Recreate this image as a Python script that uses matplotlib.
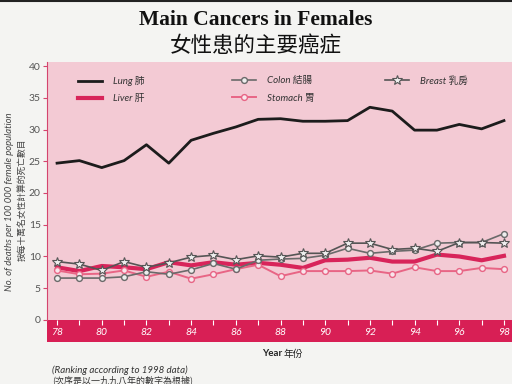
import matplotlib
matplotlib.use('Agg')
import matplotlib.pyplot as plt
from matplotlib.font_manager import FontProperties

years = list(range(78, 99))
lung = [24.7, 25.1, 24.0, 25.1, 27.6, 24.7, 28.3, 29.4, 30.4, 31.6, 31.7,
        31.3, 31.3, 31.4, 33.5, 32.9, 29.9, 29.9, 30.8, 30.1, 31.4]
liver = [8.3, 7.7, 8.5, 8.3, 8.0, 9.1, 8.6, 9.1, 8.7, 9.0, 8.7,
         8.2, 9.4, 9.5, 9.8, 9.2, 9.2, 10.3, 10.0, 9.4, 10.1]
colon = [6.6, 6.6, 6.6, 6.8, 7.6, 7.2, 7.9, 8.9, 8.0, 9.4, 9.6,
         9.7, 10.2, 11.3, 10.5, 10.8, 11.0, 12.1, 12.2, 12.2, 13.6]
stomach = [7.8, 7.2, 7.3, 7.8, 6.8, 7.6, 6.5, 7.2, 8.0, 8.7, 6.9,
           7.7, 7.7, 7.7, 7.8, 7.3, 8.3, 7.7, 7.7, 8.2, 8.0]
breast = [9.2, 8.8, 7.8, 9.2, 8.3, 9.0, 9.9, 10.2, 9.5, 10.1, 9.9,
          10.5, 10.5, 12.1, 12.1, 11.1, 11.3, 10.8, 12.2, 12.2, 12.1]
labels = ['Lung 肺', 'Liver 肝', 'Colon 結腸', 'Stomach 胃', 'Breast 乳房']
year_ticks = [78, 80, 82, 84, 86, 88, 90, 92, 94, 96, 98]
y_ticks = [0, 5, 10, 15, 20, 25, 30, 35, 40]

FAM = ['Lato', 'Noto Sans CJK TC', 'DejaVu Sans']
CJK = ['Noto Sans CJK TC', 'DejaVu Sans']

fig = plt.figure(figsize=(5.12, 3.84), dpi=100, facecolor='#f4f4f2')
fig.add_artist(plt.Line2D([0, 1], [0.997, 0.997], color='#222222', lw=1.5, transform=fig.transFigure))

fig.text(0.5, 1 - 20/384, 'Main Cancers in Females', family='Liberation Serif',
         fontweight='bold', fontsize=15.5, ha='center', va='center', color='#111111')
fig.text(0.5, 1 - 46/384, '女性患的主要癌症', family=CJK,
         fontsize=15.5, ha='center', va='center', color='#111111')

ax = fig.add_axes([47/512, 1 - 342.2/384, 465/512, 280/384])
ax.set_facecolor('#f3cad4')
ax.set_xlim(77.55, 98.36)
ax.set_ylim(-3.5, 40.6)
ax.axhspan(-3.5, 0, color='#d81f55', zorder=1, lw=0)
for s in ['top', 'right', 'bottom']:
    ax.spines[s].set_visible(False)
ax.spines['left'].set_color('#d4456e')
ax.spines['left'].set_bounds(0, 40.6)
ax.set_yticks(y_ticks)
ax.set_yticklabels([str(v) for v in y_ticks], family=FAM)
ax.tick_params(axis='y', colors='#d4456e', labelcolor='#555555', length=3,
               direction='out', labelsize=7.5, pad=1.5)
ax.set_xticks([])
ax.vlines(years, -0.8, 0, colors='white', lw=0.8, zorder=2)
for y in year_ticks:
    ax.text(y, -1.9, str(y), color='white', fontstyle='italic', fontsize=7.5,
            ha='center', va='center', family=FAM)

l_lung, = ax.plot(years, lung, color='#1c1c1c', lw=2.0, zorder=6, label=labels[0])
l_liver, = ax.plot(years, liver, color='#d8245a', lw=3.0, zorder=3, label=labels[1])
l_stom, = ax.plot(years, stomach, color='#e86585', lw=1.4, marker='o', ms=4.2,
                  mfc='#f8e6ec', mec='#e86585', mew=1, zorder=4, label=labels[3])
l_colon, = ax.plot(years, colon, color='#6a6a6a', lw=1.2, marker='o', ms=4.2,
                   mfc='#eeeeee', mec='#6a6a6a', mew=1, zorder=5, label=labels[2])
l_breast, = ax.plot(years, breast, color='#555555', lw=1.2, marker='*', ms=7,
                    mfc='#eeeeee', mec='#555555', mew=0.8, zorder=5, label=labels[4])

prop = FontProperties(family=FAM, style='italic', size=7)
common = dict(frameon=False, prop=prop, loc='upper left', borderaxespad=0,
              borderpad=0, handlelength=2.45, handletextpad=1.1, labelspacing=0.85,
              labelcolor='#333333')
leg1 = ax.legend([l_lung, l_liver], [labels[0], labels[1]],
                 bbox_to_anchor=(0.0667, 0.95), **common)
ax.add_artist(leg1)
leg2 = ax.legend([l_colon, l_stom], [labels[2], labels[3]],
                 bbox_to_anchor=(0.398, 0.95), **common)
ax.add_artist(leg2)
leg3 = ax.legend([l_breast], [labels[4]],
                 bbox_to_anchor=(0.727, 0.95), **common)

fig.text(10/512, 1 - 202/384, 'No. of deaths per 100 000 female population',
         rotation=90, ha='center', va='center', fontsize=6.8, fontstyle='italic',
         family=FAM, color='#444444')
fig.text(22/512, 1 - 200/384, '按每十萬名女性計算的死亡數目',
         rotation=90, ha='center', va='center', fontsize=6.3, family=CJK,
         color='#444444')

fig.text(262/512, 1 - 354/384, 'Year', fontsize=7, fontweight='bold',
         family=FAM, color='#222222', va='center', ha='left')
fig.text(284/512, 1 - 354/384, '年份', fontsize=7, family=CJK,
         color='#222222', va='center', ha='left')
fig.text(52/512, 1 - 370/384, '(Ranking according to 1998 data)', fontsize=7,
         fontstyle='italic', family=FAM, color='#333333', va='center', ha='left')
fig.text(52/512, 1 - 380/384, '(次序是以一九九八年的數字為根據)', fontsize=6.5,
         family=CJK, color='#333333', va='center', ha='left')

fig.savefig('out.png', dpi=100, facecolor=fig.get_facecolor())
